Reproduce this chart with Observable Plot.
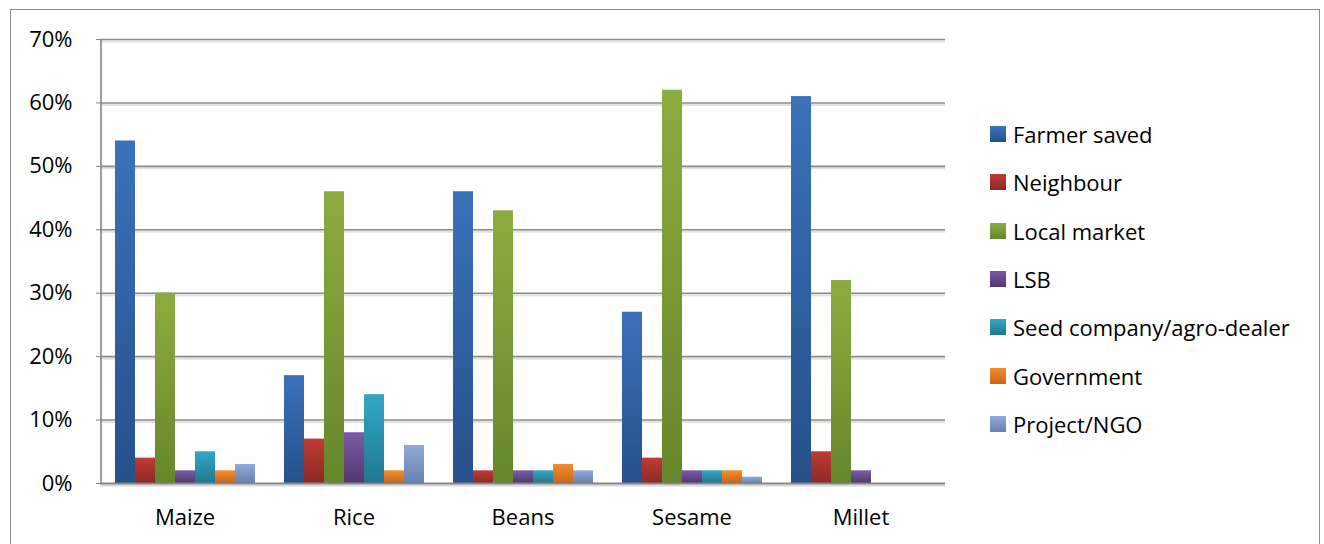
<!DOCTYPE html>
<html>
<head>
<meta charset="utf-8">
<script src="https://cdn.jsdelivr.net/npm/d3@7"></script>
<script src="https://cdn.jsdelivr.net/npm/@observablehq/plot@0.6"></script>
<style>
  html, body { margin: 0; padding: 0; background: #fff; }
  #wrap { position: relative; width: 1324px; height: 544px; overflow: hidden; font-family: "Open Sans", sans-serif; }
  #frame { position: absolute; left: 10px; top: 9px; width: 1310px; height: 600px; border: 1.5px solid #8e8e8e; box-sizing: border-box; }
  #chart { position: absolute; left: 0; top: 0; }
  #legend { position: absolute; left: 990px; top: 110px; }
  .row { height: 48.3px; display: flex; align-items: center; font-size: 22px; color: #000; }
  .sw { width: 16px; height: 16px; margin-right: 7px; }
</style>
</head>
<body>
<div id="wrap">
  <div id="frame"></div>
  <div id="chart"></div>
  <div id="legend"></div>
</div>
<script>
const crops = ["Maize", "Rice", "Beans", "Sesame", "Millet"];
const sources = ["Farmer saved", "Neighbour", "Local market", "LSB", "Seed company/agro-dealer", "Government", "Project/NGO"];
const farmerSaved = [54, 17, 46, 27, 61];
const neighbour   = [4, 7, 2, 4, 5];
const localMarket = [30, 46, 43, 62, 32];
const lsb         = [2, 8, 2, 2, 2];
const seedCompany = [5, 14, 2, 2, 0];
const government  = [2, 2, 3, 2, 0];
const projectNgo  = [3, 6, 2, 1, 0];
const yTicks = [0, 0.1, 0.2, 0.3, 0.4, 0.5, 0.6, 0.7];
const colorsTop    = ["#3a72ba", "#c03b36", "#8cac40", "#7c5aa6", "#32a8c6", "#f48c2e", "#90aadb"];
const colorsBottom = ["#26508a", "#8c2826", "#66862c", "#50386e", "#21788e", "#c66816", "#6880ae"];

const seriesValues = [farmerSaved, neighbour, localMarket, lsb, seedCompany, government, projectNgo];
const data = [];
sources.forEach((s, i) => crops.forEach((c, j) => data.push({crop: c, source: s, value: seriesValues[i][j] / 100})));

const fontSize = 22;
const W = 1324, ML = 100, MR = 379;
const paddingOuter = 0.725;
const facetStep = (W - ML - MR) / crops.length;
const barStep = facetStep / (sources.length + 2 * paddingOuter);
const firstBarCenter = (paddingOuter + 0.5) * barStep;

const chart = Plot.plot({
  width: W,
  height: 544,
  marginLeft: ML,
  marginRight: MR,
  marginTop: 39,
  marginBottom: 61,
  style: {fontFamily: "'Open Sans', sans-serif", fontSize: fontSize + "px", color: "#000", background: "transparent"},
  fx: {domain: crops, padding: 0, label: null, axis: "bottom", tickSize: 0, tickPadding: 26},
  x: {domain: sources, axis: null, paddingInner: 0, paddingOuter: paddingOuter},
  y: {domain: [0, 0.7], axis: null},
  marks: [
    Plot.ruleY(yTicks.slice(1), {stroke: "#e2e2e2", strokeWidth: 2, dy: 2}),
    Plot.ruleY(yTicks.slice(1), {stroke: "#8a8a8a", strokeWidth: 1.6}),
    ...sources.map((s, i) => Plot.barY(data.filter(d => d.source === s), {
      fx: "crop", x: "source", y: "value", fill: `url(#grad${i})`,
      style: "filter: drop-shadow(2px 1px 2px rgba(0,0,0,0.25))"
    })),
    Plot.ruleY([0], {stroke: "#d8d8d8", strokeWidth: 2, dy: 2}),
    Plot.ruleY([0], {stroke: "#868686", strokeWidth: 2}),
    Plot.axisY({facetAnchor: "left", ticks: yTicks, tickFormat: d3.format(".0%"), tickSize: 4, tickPadding: 24, stroke: "#868686", fill: "#000", label: null, fontSize: fontSize}),
    Plot.ruleX([sources[0]], {facetAnchor: "left", x: d => d, dx: -firstBarCenter, y1: 0, y2: 0.7, stroke: "#868686", strokeWidth: 1.6})
  ]
});

// gradients
const ns = "http://www.w3.org/2000/svg";
const defs = document.createElementNS(ns, "defs");
colorsTop.forEach((c, i) => {
  const g = document.createElementNS(ns, "linearGradient");
  g.setAttribute("id", "grad" + i);
  g.setAttribute("x1", "0"); g.setAttribute("y1", "0"); g.setAttribute("x2", "0"); g.setAttribute("y2", "1");
  const s1 = document.createElementNS(ns, "stop"); s1.setAttribute("offset", "0"); s1.setAttribute("stop-color", c);
  const s2 = document.createElementNS(ns, "stop"); s2.setAttribute("offset", "1"); s2.setAttribute("stop-color", colorsBottom[i]);
  g.appendChild(s1); g.appendChild(s2); defs.appendChild(g);
});
chart.insertBefore(defs, chart.firstChild);
document.getElementById("chart").appendChild(chart);

// legend
const legend = document.getElementById("legend");
sources.forEach((s, i) => {
  const row = document.createElement("div");
  row.className = "row";
  const sw = document.createElement("div");
  sw.className = "sw";
  sw.style.background = `linear-gradient(${colorsTop[i]}, ${colorsBottom[i]})`;
  const label = document.createElement("span");
  label.textContent = s;
  row.appendChild(sw); row.appendChild(label);
  legend.appendChild(row);
});
</script>
</body>
</html>
